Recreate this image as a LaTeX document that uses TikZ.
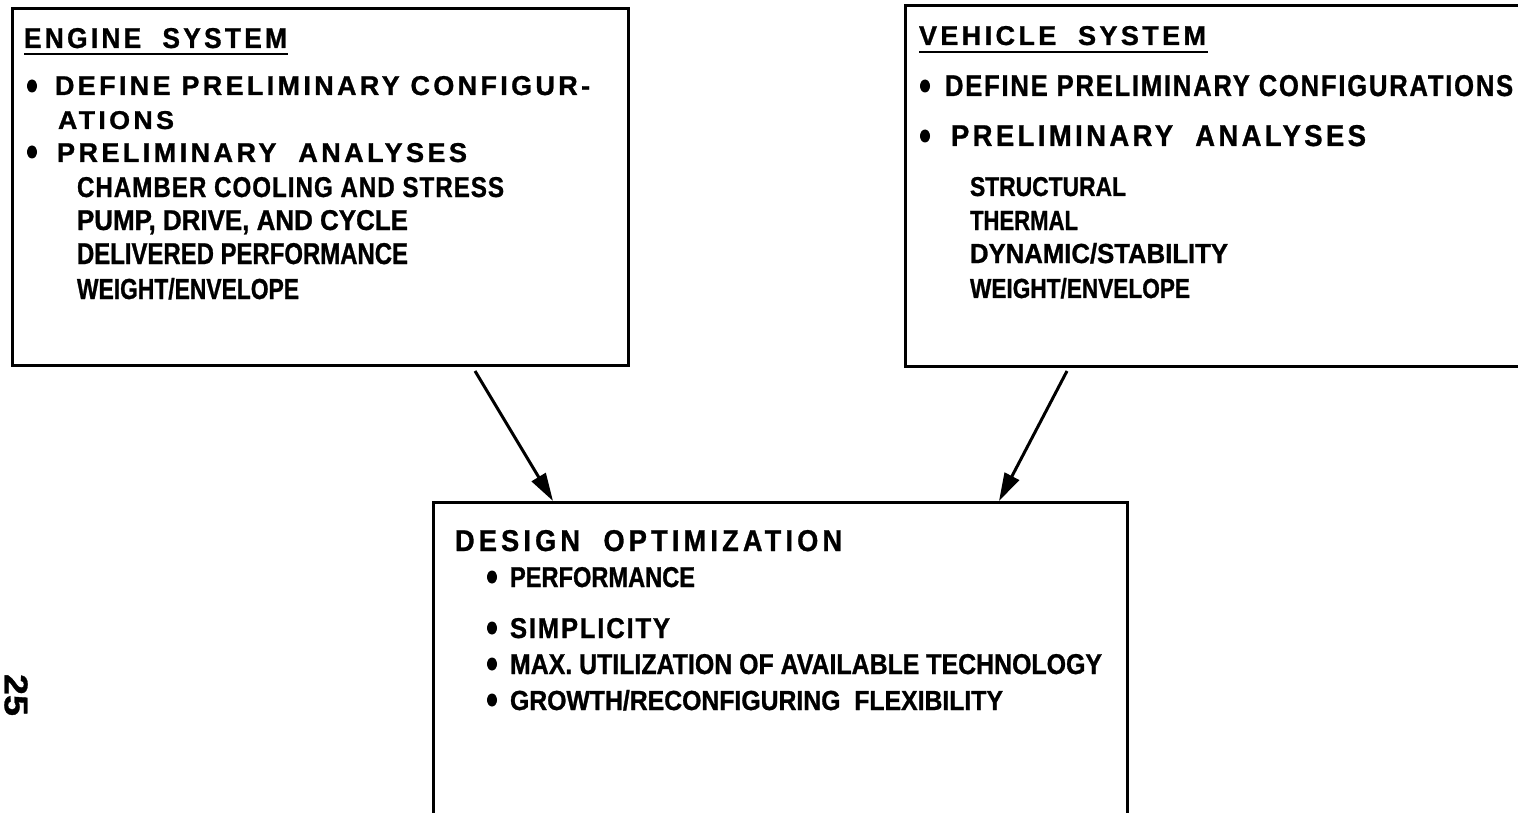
\documentclass[tikz,border=0pt]{standalone}
\usepackage{fontspec}
\usepackage{graphicx}
\setmainfont{Liberation Sans}
\newfontfamily\narrowsans[FakeStretch=0.72,FakeBold=0.8]{Liberation Sans}
\usetikzlibrary{arrows.meta,calc,shapes.geometric}

% one line of lettering: width, cap height, tracking, text
\newcommand\lettering[4]{\resizebox{#1pt}{#2pt}{\narrowsans\bfseries\addfontfeature{LetterSpace=#3}#4}}

\begin{document}
\begin{tikzpicture}[x=1pt,y=-1pt,
  panel/.style={draw, line width=3pt, rectangle, inner sep=0pt, outer sep=0pt, anchor=north west},
  txt/.style={anchor=base west, inner sep=0pt, outer sep=0pt},
  dot/.style={ellipse, fill, draw=none, inner sep=0pt, minimum width=10pt, minimum height=13pt},
  uline/.style={line width=2pt},
  flow/.style={line width=3pt, -{Triangle[length=28pt,width=16pt]}}]

\clip (0,0) rectangle (1518,813);
\fill[white] (0,0) rectangle (1518,813);

% ---------- boxes ----------
\node[panel, minimum width=616pt, minimum height=356pt] (engine) at (12,9) {};
\node[panel, minimum width=665pt, minimum height=360pt] (vehicle) at (905,6) {};
\node[panel, minimum width=694pt, minimum height=340pt] (optim) at (433,502) {};

% ---------- engine system ----------
\node[txt] (eh) at (24,48) {\lettering{263}{20}{9}{ENGINE~~SYSTEM}};
\draw[uline] (eh.base west |- 0,54) -- (288,54);
\node[dot] (eb1) at (32,86) {};
\node[txt] (e1) at (55,95) {\lettering{535}{19}{9}{DEFINE PRELIMINARY CONFIGUR-}};
\node[txt] (e2) at (58,129) {\lettering{116}{18}{9}{ATIONS}};
\node[dot] (eb2) at (32,152) {};
\node[txt] (e3) at (57,162) {\lettering{410}{19}{9}{PRELIMINARY~~ANALYSES}};
\node[txt] (e4) at (77,197) {\lettering{427}{20}{3}{CHAMBER COOLING AND STRESS}};
\node[txt] (e5) at (77,230) {\lettering{331}{20}{0}{PUMP, DRIVE, AND CYCLE}};
\node[txt] (e6) at (77,264) {\lettering{331}{21}{0}{DELIVERED PERFORMANCE}};
\node[txt] (e7) at (77,299) {\lettering{222}{21}{0}{WEIGHT/ENVELOPE}};

% ---------- vehicle system ----------
\node[txt] (vh) at (919,45) {\lettering{287}{19}{9}{VEHICLE~~SYSTEM}};
\draw[uline] (vh.base west |- 0,52) -- (1208,52);
\node[dot] (vb1) at (925,86) {};
\node[txt] (v1) at (945,96) {\lettering{568}{21}{5}{DEFINE PRELIMINARY CONFIGURATIONS}};
\node[dot] (vb2) at (925,136) {};
\node[txt] (v2) at (951,146) {\lettering{415}{21}{9}{PRELIMINARY~~ANALYSES}};
\node[txt] (v3) at (970,196) {\lettering{156}{19}{0}{STRUCTURAL}};
\node[txt] (v4) at (970,230) {\lettering{108}{19}{0}{THERMAL}};
\node[txt] (v5) at (970,263) {\lettering{258}{20}{0}{DYNAMIC/STABILITY}};
\node[txt] (v6) at (970,298) {\lettering{220}{20}{0}{WEIGHT/ENVELOPE}};

% ---------- design optimization ----------
\node[txt] (oh) at (455,551) {\lettering{387}{21}{11}{DESIGN~~OPTIMIZATION}};
\node[dot] (ob1) at (492,577) {};
\node[txt] (o1) at (510,587) {\lettering{185}{20}{0}{PERFORMANCE}};
\node[dot] (ob2) at (492,628) {};
\node[txt] (o2) at (510,638) {\lettering{160}{20}{5}{SIMPLICITY}};
\node[dot] (ob3) at (492,664) {};
\node[txt] (o3) at (510,674) {\lettering{592}{20}{0}{MAX. UTILIZATION OF AVAILABLE TECHNOLOGY}};
\node[dot] (ob4) at (492,700) {};
\node[txt] (o4) at (510,710) {\lettering{493}{20}{0}{GROWTH/RECONFIGURING~~FLEXIBILITY}};

% ---------- flow arrows ----------
\coordinate (eOut) at ($(engine.south west)+(463,6)$);
\coordinate (eIn)  at ($(optim.north west)+(120,-1)$);
\coordinate (vOut) at ($(vehicle.south west)+(162,5)$);
\coordinate (vIn)  at ($(optim.north west)+(566,-1)$);
\draw[flow] (eOut) -- (eIn);
\draw[flow] (vOut) -- (vIn);

% ---------- page number ----------
\node[rotate=-90, inner sep=0pt] (pg) at (16,695) {\resizebox{42pt}{23pt}{\narrowsans\bfseries 25}};
\end{tikzpicture}
\end{document}
